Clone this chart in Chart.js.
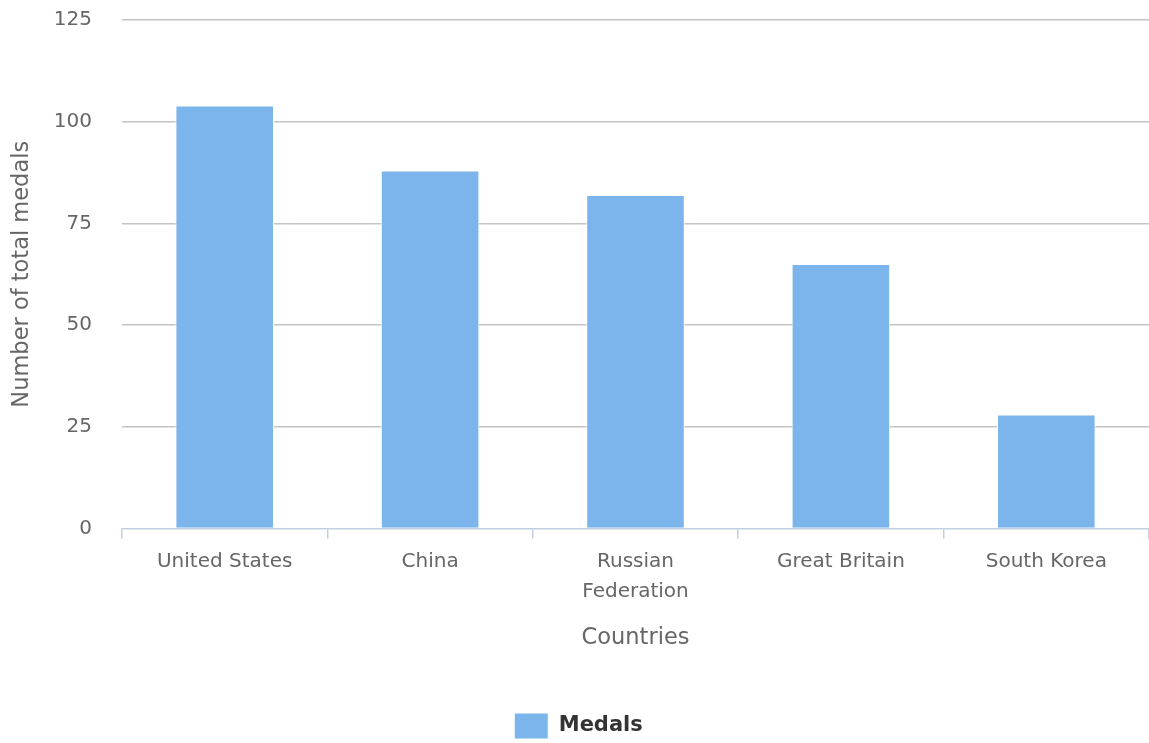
<!DOCTYPE html>
<html>
<head>
<meta charset="utf-8">
<script src="https://cdn.jsdelivr.net/npm/chart.js@4/dist/chart.umd.min.js"></script>
<style>
html,body{margin:0;padding:0;background:#fff;}
#wrap{width:1149px;height:743px;position:relative;}
</style>
</head>
<body>
<div id="wrap"><canvas id="c" width="1149" height="743"></canvas></div>
<script>
const categories = ['United States', 'China', ['Russian', 'Federation'], 'Great Britain', 'South Korea'];
const medals = [104, 88, 82, 65, 28];
const yTicks = [0, 25, 50, 75, 100, 125];
const seriesName = 'Medals';

const FONT = "'DejaVu Sans', Verdana, sans-serif";

new Chart(document.getElementById('c'), {
  type: 'bar',
  data: {
    labels: categories,
    datasets: [{
      label: seriesName,
      data: medals,
      backgroundColor: '#7cb5ec',
      borderColor: '#ffffff',
      borderWidth: 1,
      categoryPercentage: 0.6,
      barPercentage: 0.8
    }]
  },
  options: {
    responsive: false,
    animation: false,
    layout: { padding: { top: 20, right: 0, left: 8, bottom: -6 } },
    plugins: {
      legend: {
        position: 'bottom',
        labels: {
          boxWidth: 34,
          boxHeight: 26,
          padding: 0,
          color: '#333333',
          font: { family: FONT, size: 21, weight: 'bold' }
        }
      },
      tooltip: { enabled: false }
    },
    scales: {
      x: {
        offset: true,
        grid: {
          offset: true,
          drawOnChartArea: false,
          drawTicks: true,
          tickLength: 10,
          color: '#c0d0e0',
          lineWidth: 1.5
        },
        border: { display: true, color: '#c0d0e0', width: 1.5 },
        ticks: {
          color: '#666666',
          padding: 8,
          maxRotation: 0,
          autoSkip: false,
          font: { family: FONT, size: 20, lineHeight: 1.5 }
        },
        title: {
          display: true,
          text: 'Countries',
          color: '#666666',
          font: { family: FONT, size: 22.5, lineHeight: 1.2 },
          padding: { top: 10.5, bottom: 61 }
        }
      },
      y: {
        min: 0,
        max: 125,
        afterBuildTicks: (scale) => { scale.ticks = yTicks.map(v => ({ value: v })); },
        afterFit: (scale) => { scale.width = 114; },
        grid: {
          drawTicks: true,
          tickLength: 30,
          tickColor: 'rgba(0,0,0,0)',
          color: (ctx) => ctx.tick && ctx.tick.value === 0 ? 'rgba(0,0,0,0)' : '#c4c4c4',
          lineWidth: 1.5
        },
        border: { display: false },
        ticks: {
          color: '#666666',
          padding: 0,
          font: { family: FONT, size: 20 }
        },
        title: {
          display: true,
          text: 'Number of total medals',
          color: '#666666',
          font: { family: FONT, size: 22.5, lineHeight: 1.2 },
          padding: { top: 0.5, bottom: 0 }
        }
      }
    }
  }
});
</script>
</body>
</html>
